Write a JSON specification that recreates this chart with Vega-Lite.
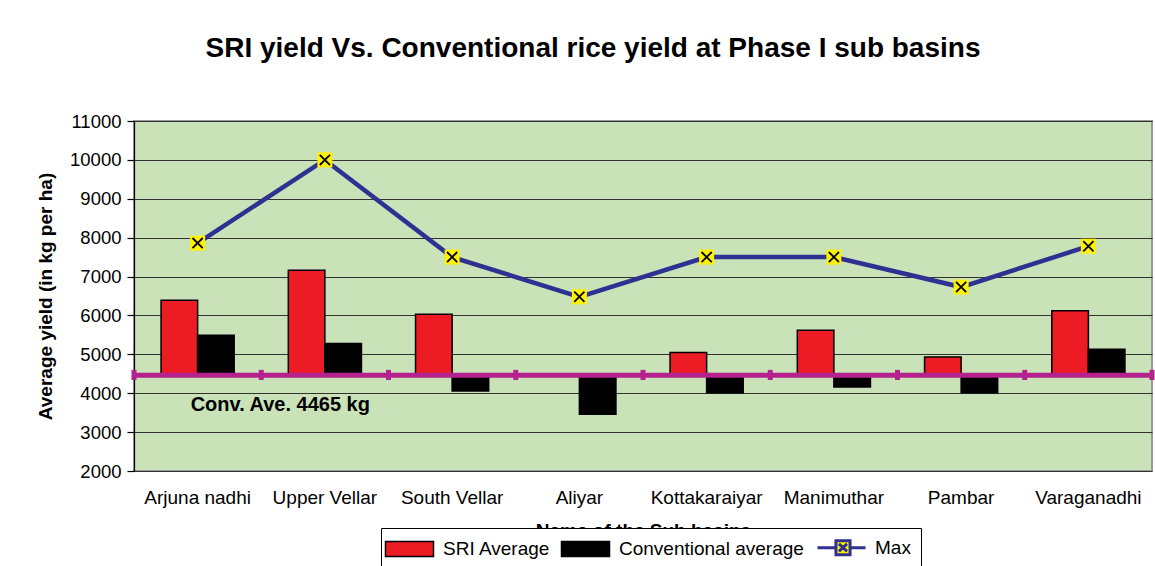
{
  "$schema": "https://vega.github.io/schema/vega-lite/v6.json",
  "width": 1018,
  "height": 350,
  "autosize": {"type": "none"},
  "padding": {"left": 134, "top": 121, "right": 3, "bottom": 95},
  "background": "white",
  "title": {
    "text": "SRI yield Vs. Conventional rice yield at Phase I sub basins",
    "fontSize": 28,
    "fontWeight": "bold",
    "font": "Liberation Sans",
    "color": "black",
    "anchor": "middle",
    "frame": "group",
    "baseline": "alphabetic",
    "dx": -50,
    "offset": 27
  },
  "config": {
    "font": "Liberation Sans",
    "view": {"fill": "#c9e2b8", "stroke": "#999999", "strokeWidth": 2},
    "axisY": {
      "titleFontSize": 19,
      "titleFontWeight": "bold",
      "titleColor": "black",
      "titlePadding": 14,
      "labelFontSize": 18.5,
      "labelColor": "black",
      "labelPadding": 6,
      "format": "d",
      "tickCount": 9,
      "ticks": true,
      "tickColor": "black",
      "tickSize": 7,
      "tickWidth": 1.2,
      "domain": true,
      "domainColor": "black",
      "domainWidth": 1.2,
      "grid": true,
      "gridColor": "#333333",
      "gridOpacity": 1,
      "gridWidth": 1.2
    },
    "axisX": {
      "titleFontSize": 19,
      "titleFontWeight": "bold",
      "titleColor": "black",
      "titlePadding": 14,
      "labelFontSize": 19,
      "labelColor": "black",
      "labelAngle": 0,
      "labelPadding": 17,
      "domain": false,
      "ticks": false,
      "grid": false
    }
  },
  "datasets": {
    "bars": [
      {"basin": "Arjuna nadhi", "series": "SRI Average", "value": 6390},
      {"basin": "Arjuna nadhi", "series": "Conventional average", "value": 5490},
      {"basin": "Upper Vellar", "series": "SRI Average", "value": 7160},
      {"basin": "Upper Vellar", "series": "Conventional average", "value": 5280},
      {"basin": "South Vellar", "series": "SRI Average", "value": 6030},
      {"basin": "South Vellar", "series": "Conventional average", "value": 4060},
      {"basin": "Aliyar", "series": "Conventional average", "value": 3460},
      {"basin": "Kottakaraiyar", "series": "SRI Average", "value": 5050},
      {"basin": "Kottakaraiyar", "series": "Conventional average", "value": 4010},
      {"basin": "Manimuthar", "series": "SRI Average", "value": 5620},
      {"basin": "Manimuthar", "series": "Conventional average", "value": 4160},
      {"basin": "Pambar", "series": "SRI Average", "value": 4930},
      {"basin": "Pambar", "series": "Conventional average", "value": 4010},
      {"basin": "Varaganadhi", "series": "SRI Average", "value": 6120},
      {"basin": "Varaganadhi", "series": "Conventional average", "value": 5130}
    ],
    "maxv": [
      {"basin": "Arjuna nadhi", "value": 7860},
      {"basin": "Upper Vellar", "value": 10000},
      {"basin": "South Vellar", "value": 7500},
      {"basin": "Aliyar", "value": 6480},
      {"basin": "Kottakaraiyar", "value": 7500},
      {"basin": "Manimuthar", "value": 7500},
      {"basin": "Pambar", "value": 6730},
      {"basin": "Varaganadhi", "value": 7780}
    ],
    "note": [{"label": "Conv. Ave. 4465 kg", "avg": 4465}]
  },
  "layer": [
    {
      "data": {"name": "bars"},
      "mark": {"type": "bar", "stroke": "black", "strokeWidth": 1.5},
      "encoding": {
        "x": {
          "field": "basin",
          "type": "nominal",
          "sort": null,
          "title": "Name of the Sub basins",
          "scale": {
            "domain": ["Arjuna nadhi", "Upper Vellar", "South Vellar", "Aliyar", "Kottakaraiyar", "Manimuthar", "Pambar", "Varaganadhi"],
            "paddingInner": 0,
            "paddingOuter": 0
          }
        },
        "xOffset": {
          "field": "series",
          "type": "nominal",
          "scale": {"domain": ["SRI Average", "Conventional average"], "paddingInner": 0, "paddingOuter": 0.74}
        },
        "y": {
          "field": "value",
          "type": "quantitative",
          "title": "Average yield (in kg per ha)",
          "scale": {"domain": [2000, 11000], "nice": false, "zero": false}
        },
        "y2": {"datum": 4465},
        "color": {
          "field": "series",
          "type": "nominal",
          "scale": {
            "domain": ["SRI Average", "Conventional average", "Max"],
            "range": ["#ed1c24", "#000000", "#fff200"]
          },
          "legend": {
            "orient": "none",
            "legendX": 247,
            "legendY": 407,
            "direction": "horizontal",
            "title": null,
            "fillColor": "white",
            "strokeColor": "black",
            "padding": 10,
            "symbolSize": 900,
            "symbolType": {"expr": "datum.value === 'Max' ? 'M-1,0H0.23M1.17,0H2.2M0.23,-0.47H1.17V0.47H0.23ZM0.43,-0.25L0.97,0.25M0.43,0.25L0.97,-0.25' : 'M-1,-0.5H2.2V0.5H-1Z'"},
            "symbolStrokeColor": {"expr": "datum.value === 'Max' ? '#2e3192' : '#000000'"},
            "symbolStrokeWidth": {"expr": "datum.value === 'Max' ? 3 : 1.5"},
            "symbolOpacity": 1,
            "labelOffset": 33,
            "labelLimit": 400,
            "columnPadding": 7,
            "labelFontSize": 19,
            "labelColor": "black",
            "labelFont": "Liberation Sans",
            "zindex": 5
          }
        }
      }
    },
    {
      "data": {"name": "note"},
      "mark": {"type": "rule", "color": "#b5218f", "strokeWidth": 5},
      "encoding": {"y": {"field": "avg", "type": "quantitative"}}
    },
    {
      "data": {"name": "maxv"},
      "mark": {"type": "rule", "color": "#b5218f", "strokeWidth": 5},
      "encoding": {
        "x": {"field": "basin", "type": "nominal", "bandPosition": 0},
        "y": {"datum": 4340},
        "y2": {"datum": 4600}
      }
    },
    {
      "data": {"name": "maxv"},
      "transform": [{"filter": "datum.basin === 'Varaganadhi'"}],
      "mark": {"type": "rule", "color": "#b5218f", "strokeWidth": 5},
      "encoding": {
        "x": {"field": "basin", "type": "nominal", "bandPosition": 1},
        "y": {"datum": 4340},
        "y2": {"datum": 4600}
      }
    },
    {
      "data": {"name": "maxv"},
      "mark": {"type": "line", "color": "#2e3192", "strokeWidth": 4.5},
      "encoding": {
        "x": {"field": "basin", "type": "nominal"},
        "y": {"field": "value", "type": "quantitative"}
      }
    },
    {
      "data": {"name": "maxv"},
      "mark": {"type": "point", "shape": "square", "filled": true, "fill": "#fff200", "size": 225, "opacity": 1, "strokeWidth": 0},
      "encoding": {
        "x": {"field": "basin", "type": "nominal"},
        "y": {"field": "value", "type": "quantitative"}
      }
    },
    {
      "data": {"name": "maxv"},
      "mark": {"type": "point", "shape": "M-0.68,-0.68L0.68,0.68M-0.68,0.68L0.68,-0.68", "filled": false, "stroke": "black", "strokeWidth": 1.8, "size": 225, "opacity": 1},
      "encoding": {
        "x": {"field": "basin", "type": "nominal"},
        "y": {"field": "value", "type": "quantitative"}
      }
    },
    {
      "data": {"name": "note"},
      "mark": {"type": "text", "fontSize": 20, "fontWeight": "bold", "align": "left", "baseline": "alphabetic", "dx": -7, "color": "black"},
      "encoding": {
        "x": {"datum": "Arjuna nadhi", "type": "nominal"},
        "y": {"datum": 3550, "type": "quantitative"},
        "text": {"field": "label"}
      }
    }
  ]
}
